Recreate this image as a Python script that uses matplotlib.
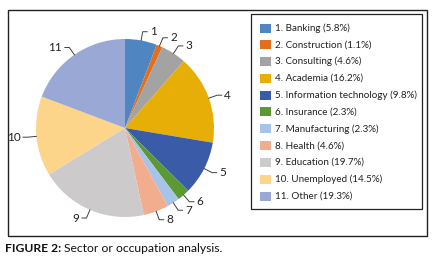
import numpy as np
import matplotlib
matplotlib.use("Agg")
import matplotlib.pyplot as plt
from matplotlib.patches import Rectangle

plt.rcParams['font.family'] = ['Lato', 'DejaVu Sans']

numbers = ['1', '2', '3', '4', '5', '6', '7', '8', '9', '10', '11']
categories = ['Banking', 'Construction', 'Consulting', 'Academia',
              'Information technology', 'Insurance', 'Manufacturing',
              'Health', 'Education', 'Unemployed', 'Other']
values = [5.8, 1.1, 4.6, 16.2, 9.8, 2.3, 2.3, 4.6, 19.7, 14.5, 19.3]
colors = ['#4F86C1', '#E0701E', '#A3A3A3', '#E6AE06', '#3A5BA8', '#5C9933',
          '#A8C3E8', '#F2AC8E', '#CCCACA', '#FCD48A', '#9AA8D6']

W, H = 436, 262
fig = plt.figure(figsize=(W / 100, H / 100), dpi=100)

# pie axes: centre (125,128) px, radius 89 px
R = 89
lim = 1.35
side = 2 * lim * R
cx, cy = 125, 128
ax = fig.add_axes([(cx - side / 2) / W, (H - cy - side / 2) / H, side / W, side / H])
wedges, _ = ax.pie(values, colors=colors, startangle=90, counterclock=False,
                   radius=1.0, wedgeprops=dict(linewidth=0))
ax.set_xlim(-lim, lim)
ax.set_ylim(-lim, lim)
ax.set_aspect('equal')
ax.axis('off')

for w, lab in zip(wedges, numbers):
    ang = np.deg2rad((w.theta1 + w.theta2) / 2)
    c, s = np.cos(ang), np.sin(ang)
    x0, y0 = 1.0 * c, 1.0 * s
    x1, y1 = 1.1 * c, 1.1 * s
    side_sign = 1 if c >= 0 else -1
    x2 = x1 + 0.05 * side_sign
    ax.plot([x0, x1, x2], [y0, y1, y1], color='#404040', lw=0.7, clip_on=False)
    ax.text(x2 + 0.03 * side_sign, y1, lab, ha='left' if side_sign > 0 else 'right',
            va='center', fontsize=8.5, color='#222222')

# outer frame
fig.add_artist(Rectangle((8 / W, 1 - 236 / H), (427 - 8) / W, (236 - 10) / H,
                         transform=fig.transFigure, fill=False, ec='#222222', lw=1.0))
# legend box
fig.add_artist(Rectangle((251 / W, 1 - 209 / H), (422 - 251) / W, (209 - 14) / H,
                         transform=fig.transFigure, fill=False, ec='#222222', lw=0.9))
row0, dy = 28.0, 16.8
for i, (num, cat, v, col) in enumerate(zip(numbers, categories, values, colors)):
    yc = row0 + i * dy
    fig.add_artist(Rectangle((260 / W, 1 - (yc + 4.5) / H), 11 / W, 9 / H,
                             transform=fig.transFigure, fc=col, ec='none'))
    fig.text(275 / W, 1 - yc / H, f"{num}. {cat} ({v}%)", fontsize=7.1,
             va='center', ha='left', color='#222222')

# caption
t = fig.text(5 / W, 1 - 248 / H, "FIGURE 2:", fontsize=8.7, fontweight='bold',
             va='center', ha='left', color='#111111')
fig.canvas.draw()
bb = t.get_window_extent()
fig.text((bb.x1 + 3) / W, 1 - 248 / H, "Sector or occupation analysis.", fontsize=8.7,
         va='center', ha='left', color='#111111')

fig.savefig('out.png', dpi=100)
